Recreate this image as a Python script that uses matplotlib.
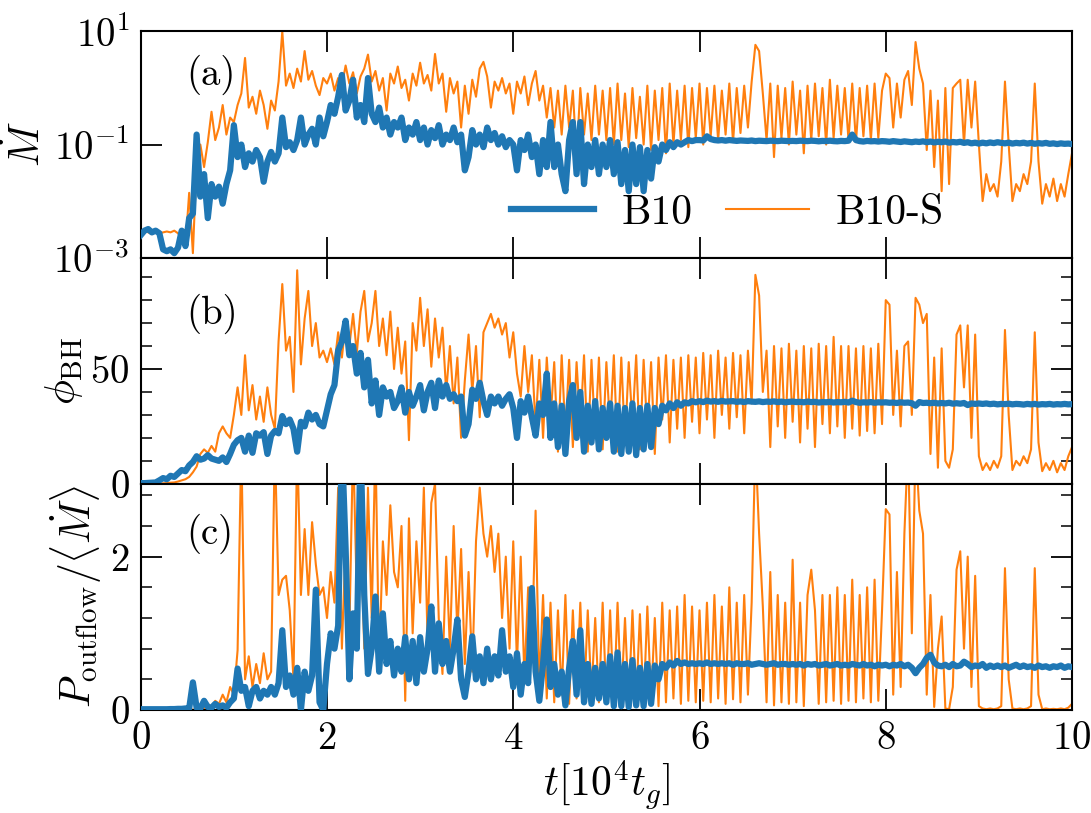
import numpy as np
import matplotlib
matplotlib.use('Agg')
import matplotlib.pyplot as plt
from matplotlib.ticker import FixedLocator, NullLocator, MultipleLocator

# time in units of 1e4 t_g, one sample every 0.04
t_start, t_end = 0.0, 10.0

# accretion rate, B10
mdot_b10 = [
    0.0025, 0.003, 0.0032, 0.0028, 0.003, 0.0027, 0.0014, 0.0013, 0.0014, 0.0012, 0.0015, 0.003, 0.0016, 0.005, 0.006, 0.15, 0.012, 0.03, 0.005, 0.02, 0.012, 0.018, 0.009, 0.02, 0.035,
    0.22, 0.06, 0.1, 0.04, 0.07, 0.05, 0.08, 0.06, 0.022, 0.05, 0.074, 0.05, 0.07, 0.3, 0.09, 0.11, 0.08, 0.12, 0.3, 0.1, 0.15, 0.19, 0.1, 0.3, 0.14,
    0.25, 0.5, 0.35, 0.7, 1.7, 0.4, 0.6, 1.4, 0.3, 0.5, 0.25, 1.5, 0.35, 0.25, 0.45, 0.2, 0.3, 0.15, 0.25, 0.2, 0.3, 0.12, 0.2, 0.15, 0.25,
    0.12, 0.2, 0.1, 0.18, 0.13, 0.22, 0.1, 0.15, 0.12, 0.2, 0.11, 0.15, 0.035, 0.06, 0.18, 0.1, 0.15, 0.09, 0.2, 0.12, 0.16, 0.1, 0.14, 0.09, 0.12,
    0.1, 0.035, 0.12, 0.08, 0.15, 0.06, 0.1, 0.03, 0.12, 0.04, 0.25, 0.04, 0.1, 0.03, 0.015, 0.12, 0.25, 0.03, 0.25, 0.02, 0.1, 0.04, 0.12, 0.03, 0.1,
    0.04, 0.12, 0.03, 0.11, 0.02, 0.08, 0.015, 0.1, 0.02, 0.09, 0.015, 0.08, 0.025, 0.09, 0.05, 0.1, 0.08, 0.11, 0.09, 0.11, 0.1, 0.11, 0.12, 0.115, 0.12,
    0.12, 0.118, 0.14, 0.125, 0.12, 0.118, 0.12, 0.117, 0.12, 0.118, 0.116, 0.118, 0.117, 0.116, 0.118, 0.115, 0.117, 0.116, 0.115, 0.117, 0.116, 0.115, 0.117, 0.116, 0.115,
    0.116, 0.115, 0.117, 0.116, 0.115, 0.117, 0.116, 0.114, 0.116, 0.115, 0.117, 0.115, 0.114, 0.116, 0.115, 0.117, 0.15, 0.12, 0.115, 0.113, 0.116, 0.114, 0.115, 0.113, 0.115,
    0.114, 0.112, 0.115, 0.113, 0.111, 0.114, 0.112, 0.11, 0.113, 0.111, 0.114, 0.11, 0.113, 0.109, 0.112, 0.11, 0.113, 0.108, 0.111, 0.109, 0.112, 0.107, 0.11, 0.105, 0.108,
    0.104, 0.108, 0.105, 0.109, 0.106, 0.11, 0.107, 0.105, 0.108, 0.104, 0.107, 0.105, 0.108, 0.104, 0.107, 0.103, 0.106, 0.104, 0.107, 0.103, 0.105, 0.102, 0.105, 0.103, 0.104,
    0.102,
]

# accretion rate, B10-S
mdot_b10s = [
    0.0025, 0.003, 0.0028, 0.0026, 0.003, 0.0027, 0.0028, 0.0029, 0.0028, 0.003, 0.0027, 0.0022, 0.0016, 0.014, 0.0012, 0.05, 0.1, 0.04, 0.11, 0.38, 0.12, 0.2, 0.5, 0.15, 0.3,
    0.25, 0.5, 0.8, 3.4, 0.45, 0.7, 0.35, 0.9, 0.5, 0.19, 0.6, 0.4, 1.3, 10.0, 1.1, 1.8, 1.0, 2.2, 1.3, 4.5, 1.4, 2.0, 1.1, 0.75, 1.5,
    1.2, 1.8, 0.9, 1.5, 1.1, 2.5, 1.2, 1.9, 0.8, 1.6, 2.2, 3.9, 1.3, 2.0, 0.9, 1.5, 0.4, 1.8, 1.2, 2.4, 1.0, 1.4, 0.6, 1.8, 1.1,
    2.8, 1.2, 1.7, 0.9, 4.0, 1.2, 1.8, 0.38, 1.5, 0.8, 1.3, 0.2, 1.1, 0.35, 1.4, 0.7, 2.2, 2.9, 1.6, 0.45, 1.3, 0.9, 1.5, 0.8, 1.2,
    0.35, 1.3, 0.8, 1.6, 0.5, 1.2, 2.0, 0.6, 1.1, 0.3, 1.0, 0.2, 0.9, 0.15, 1.1, 0.2, 0.9, 0.06, 1.0, 0.15, 0.8, 0.12, 1.1, 0.15, 0.9,
    0.12, 1.0, 0.1, 1.2, 0.12, 0.8, 0.09, 1.0, 0.13, 0.7, 0.1, 1.1, 0.08, 0.9, 0.12, 1.0, 0.07, 1.2, 0.1, 0.9, 0.12, 1.1, 0.09, 1.0, 0.13,
    1.2, 0.1, 1.0, 0.14, 1.1, 0.12, 0.9, 0.15, 1.2, 0.11, 1.0, 0.16, 1.1, 0.2, 1.3, 5.8, 4.5, 0.8, 0.12, 1.2, 0.06, 1.1, 0.13, 1.0, 0.1,
    1.3, 0.15, 0.9, 0.07, 1.1, 0.12, 1.2, 0.14, 1.0, 0.1, 1.4, 0.13, 1.1, 0.15, 1.0, 0.12, 1.2, 0.11, 1.0, 0.14, 1.1, 0.12, 1.2, 0.13, 0.9,
    1.8, 1.5, 0.2, 1.2, 0.3, 1.4, 2.0, 0.5, 6.5, 2.2, 1.2, 0.08, 0.9, 0.04, 0.6, 0.015, 1.0, 0.02, 1.0, 1.2, 1.4, 0.1, 1.4, 0.2, 1.3,
    0.1, 0.01, 0.03, 0.015, 0.02, 0.012, 0.05, 1.3, 0.1, 0.01, 0.02, 0.015, 0.03, 0.02, 0.05, 1.2, 0.05, 0.009, 0.02, 0.012, 0.025, 0.01, 0.02, 0.012, 0.03,
    0.07,
]

# magnetic flux on the horizon, B10
phi_b10 = [
    0.3, 0.3, 0.4, 0.5, 0.6, 1.5, 2.5, 2.0, 3.5, 3.0, 4.5, 6.0, 5.5, 8.0, 9.5, 12.0, 10.5, 11.0, 12.5, 11.0, 10.5, 10.0, 11.5, 9.5, 13.0,
    17.0, 19.0, 20.0, 14.0, 21.0, 13.5, 22.0, 21.0, 22.5, 13.0, 21.0, 23.0, 22.0, 29.5, 26.0, 28.0, 24.0, 14.0, 27.0, 25.0, 31.0, 28.0, 30.0, 26.0, 25.0,
    32.0, 39.0, 43.0, 58.0, 62.0, 71.0, 56.0, 60.0, 48.0, 57.0, 42.0, 54.0, 35.0, 45.0, 30.0, 42.0, 38.0, 40.0, 33.0, 36.0, 42.0, 31.0, 40.0, 34.0, 38.0,
    43.0, 32.0, 40.0, 44.0, 33.0, 45.0, 38.0, 43.0, 37.0, 39.0, 36.0, 38.0, 21.0, 26.0, 41.0, 37.0, 44.0, 36.0, 30.0, 38.0, 35.0, 38.0, 34.0, 37.0, 39.0,
    33.0, 20.0, 36.0, 31.0, 38.0, 29.0, 21.0, 35.0, 30.0, 48.0, 20.0, 35.0, 16.0, 34.0, 13.0, 36.0, 43.0, 20.0, 40.0, 14.0, 34.0, 18.0, 36.0, 15.0, 33.0,
    20.0, 35.0, 14.0, 34.0, 13.0, 33.0, 14.0, 35.0, 12.5, 33.0, 15.0, 34.0, 16.0, 33.0, 26.0, 34.0, 32.0, 35.0, 33.0, 35.5, 34.0, 35.5, 35.0, 36.0, 35.5,
    36.0, 35.6, 36.2, 35.8, 36.0, 35.7, 36.1, 35.8, 35.9, 36.0, 35.7, 35.9, 35.6, 36.0, 35.8, 35.7, 35.9, 35.6, 35.8, 35.7, 35.9, 35.6, 35.8, 35.5, 35.7,
    35.8, 35.6, 35.7, 35.5, 35.8, 35.6, 35.7, 35.4, 35.6, 35.5, 35.7, 35.4, 35.6, 35.5, 35.7, 35.4, 36.2, 35.6, 35.3, 35.5, 35.4, 35.6, 35.3, 35.5, 35.4,
    35.5, 35.3, 35.4, 35.2, 35.5, 35.3, 35.4, 35.1, 34.0, 35.6, 35.2, 35.3, 35.1, 35.3, 35.0, 35.2, 35.0, 35.3, 34.9, 35.1, 34.9, 35.2, 34.3, 35.0, 34.8,
    35.0, 34.8, 35.0, 34.7, 34.9, 34.6, 34.8, 34.7, 34.9, 34.6, 34.8, 34.7, 34.5, 34.8, 34.6, 34.8, 34.5, 34.7, 34.6, 34.8, 34.5, 34.7, 34.6, 34.8, 34.6,
    34.7,
]

# magnetic flux on the horizon, B10-S
phi_b10s = [
    0.0, 0.0, 0.0, 0.0, 0.0, 0.1, 0.2, 0.3, 0.5, 0.6, 1.0, 1.5, 2.0, 3.0, 5.0, 7.5, 13.0, 15.0, 13.5, 16.5, 14.0, 22.0, 25.0, 22.0, 20.0,
    30.0, 42.0, 30.0, 56.0, 32.0, 43.0, 28.0, 38.0, 27.0, 42.0, 30.0, 24.0, 62.0, 87.0, 58.0, 64.0, 40.0, 93.0, 52.0, 72.0, 84.0, 60.0, 70.0, 55.0, 58.0,
    53.0, 59.0, 52.0, 66.0, 55.0, 70.0, 60.0, 74.0, 57.0, 75.0, 84.0, 62.0, 70.0, 84.0, 60.0, 72.0, 56.0, 75.0, 50.0, 68.0, 48.0, 62.0, 19.0, 70.0, 58.0,
    81.0, 60.0, 76.0, 51.0, 72.0, 55.0, 68.0, 40.0, 60.0, 35.0, 55.0, 20.0, 45.0, 65.0, 40.0, 60.0, 29.0, 66.0, 70.0, 74.0, 68.0, 72.0, 65.0, 70.0, 55.0,
    66.0, 48.0, 38.0, 60.0, 40.0, 56.0, 25.0, 54.0, 20.0, 55.0, 28.0, 53.0, 14.0, 56.0, 22.0, 54.0, 16.0, 53.0, 25.0, 56.0, 14.0, 54.0, 20.0, 55.0, 15.0,
    53.0, 24.0, 56.0, 14.0, 55.0, 18.0, 53.0, 26.0, 56.0, 15.0, 54.0, 22.0, 53.0, 13.0, 55.0, 28.0, 56.0, 18.0, 54.0, 24.0, 55.0, 20.0, 56.0, 27.0, 55.0,
    22.0, 57.0, 28.0, 56.0, 20.0, 58.0, 30.0, 55.0, 24.0, 57.0, 29.0, 56.0, 22.0, 58.0, 35.0, 91.0, 82.0, 40.0, 58.0, 16.0, 60.0, 25.0, 59.0, 20.0, 61.0,
    27.0, 58.0, 18.0, 60.0, 24.0, 59.0, 16.0, 61.0, 26.0, 60.0, 22.0, 64.0, 25.0, 60.0, 20.0, 60.0, 24.0, 59.0, 21.0, 60.0, 23.0, 59.0, 22.0, 61.0, 26.0,
    80.0, 78.0, 30.0, 58.0, 25.0, 60.0, 62.0, 30.0, 81.0, 78.0, 70.0, 74.0, 13.0, 55.0, 7.0, 59.0, 10.0, 7.0, 15.0, 65.0, 69.0, 42.0, 69.0, 20.0, 65.0,
    12.0, 6.0, 9.0, 6.0, 10.0, 7.0, 12.0, 67.0, 30.0, 6.0, 10.0, 8.0, 12.0, 9.0, 15.0, 66.0, 18.0, 5.5, 9.0, 6.0, 10.0, 5.0, 9.0, 6.0, 12.0,
    16.0,
]

# outflow power over mean accretion rate, B10
pout_b10 = [
    0.01, 0.01, 0.01, 0.01, 0.01, 0.01, 0.01, 0.01, 0.012, 0.012, 0.015, 0.015, 0.02, 0.02, 0.36, 0.03, 0.02, 0.12, 0.04, 0.03, 0.08, 0.04, 0.06, 0.03, 0.1,
    0.15, 0.54, 0.25, 0.3, 0.05, 0.25, 0.3, 0.15, 0.25, 0.2, 0.3, 0.2, 0.35, 1.04, 0.3, 0.45, 0.2, 0.55, 0.0, 0.5, 0.25, 0.45, 1.57, 0.1, 0.0,
    0.6, 1.0, 0.8, 1.1, 3.5, 2.1, 0.4, 1.26, 0.8, 3.5, 1.5, 0.47, 0.8, 1.48, 0.5, 1.26, 0.6, 0.9, 0.45, 0.8, 0.5, 0.95, 0.4, 0.9, 0.35,
    0.95, 0.5, 0.8, 1.35, 0.5, 1.13, 0.6, 0.9, 0.5, 0.8, 1.18, 0.4, 0.17, 0.5, 0.96, 0.4, 0.7, 0.35, 0.8, 0.4, 0.7, 0.45, 1.04, 0.5, 0.7,
    0.3, 0.74, 0.2, 0.6, 0.35, 1.59, 0.5, 0.12, 0.6, 1.18, 0.3, 0.6, 0.2, 0.5, 0.06, 0.55, 0.9, 0.2, 1.04, 0.1, 0.6, 0.08, 0.55, 0.15, 0.6,
    0.1, 0.7, 0.05, 0.75, 0.05, 0.6, 0.04, 0.65, 0.06, 0.55, 0.05, 0.6, 0.08, 0.58, 0.4, 0.6, 0.55, 0.62, 0.58, 0.64, 0.6, 0.62, 0.6, 0.61, 0.6,
    0.61, 0.6, 0.62, 0.6, 0.61, 0.6, 0.61, 0.6, 0.61, 0.59, 0.61, 0.6, 0.6, 0.61, 0.59, 0.6, 0.61, 0.6, 0.59, 0.6, 0.61, 0.59, 0.6, 0.6, 0.59,
    0.6, 0.59, 0.6, 0.58, 0.6, 0.59, 0.6, 0.58, 0.59, 0.6, 0.58, 0.59, 0.6, 0.58, 0.59, 0.58, 0.6, 0.59, 0.58, 0.6, 0.58, 0.59, 0.57, 0.59, 0.58,
    0.59, 0.57, 0.59, 0.58, 0.6, 0.57, 0.59, 0.55, 0.48, 0.55, 0.6, 0.68, 0.72, 0.62, 0.58, 0.57, 0.59, 0.56, 0.6, 0.57, 0.58, 0.63, 0.6, 0.56, 0.58,
    0.57, 0.6, 0.55, 0.58, 0.56, 0.58, 0.56, 0.58, 0.55, 0.57, 0.59, 0.56, 0.58, 0.56, 0.57, 0.55, 0.58, 0.56, 0.57, 0.55, 0.57, 0.56, 0.58, 0.55, 0.57,
    0.56,
]

# outflow power over mean accretion rate, B10-S
pout_b10s = [
    0.005, 0.005, 0.005, 0.005, 0.005, 0.005, 0.005, 0.005, 0.005, 0.005, 0.005, 0.005, 0.005, 0.005, 0.005, 0.005, 0.005, 0.02, 0.08, 0.04, 0.12, 0.08, 0.2, 0.1, 0.3,
    0.2, 0.78, 3.5, 0.4, 0.7, 0.3, 0.6, 0.35, 0.74, 0.4, 0.5, 3.5, 1.5, 1.7, 1.75, 1.3, 0.4, 3.5, 1.5, 2.36, 1.5, 2.45, 1.9, 1.5, 1.6,
    1.2, 1.8, 1.4, 2.9, 0.8, 2.2, 1.0, 3.5, 1.5, 2.5, 0.8, 2.9, 1.2, 3.5, 0.6, 2.2, 1.5, 2.67, 1.8, 1.6, 2.4, 0.12, 2.5, 1.0, 2.2,
    1.4, 2.9, 0.9, 2.7, 2.95, 1.2, 0.47, 2.0, 0.8, 2.4, 1.0, 2.1, 0.6, 1.8, 0.5, 2.2, 2.9, 2.3, 2.0, 2.4, 1.8, 2.3, 1.2, 2.0, 0.8,
    2.2, 0.6, 2.0, 0.4, 1.6, 0.8, 2.6, 0.3, 1.5, 0.15, 1.4, 0.1, 1.3, 0.2, 1.5, 0.08, 1.3, 0.15, 1.4, 0.1, 1.3, 0.2, 1.2, 0.1, 1.4,
    0.12, 1.3, 0.05, 1.4, 0.15, 1.2, 0.08, 1.3, 0.1, 1.25, 0.06, 1.35, 0.12, 1.2, 0.05, 1.4, 0.1, 1.3, 0.15, 1.35, 0.08, 1.5, 0.12, 1.35, 0.1,
    1.3, 0.12, 1.4, 0.1, 1.5, 0.15, 1.35, 0.08, 1.6, 0.14, 1.4, 0.1, 1.5, 0.2, 1.4, 3.5, 2.3, 1.35, 0.1, 1.8, 0.06, 1.5, 0.1, 1.4, 0.08,
    1.96, 0.1, 1.4, 0.05, 1.5, 1.83, 1.3, 0.08, 1.5, 0.1, 1.5, 0.12, 1.6, 0.08, 1.5, 0.12, 1.7, 0.1, 1.5, 0.15, 1.6, 0.1, 1.7, 0.12, 1.3,
    2.62, 2.55, 0.2, 1.8, 0.3, 2.3, 3.5, 1.0, 3.5, 2.6, 2.3, 0.2, 1.5, 0.04, 0.8, 1.22, 0.02, 0.01, 0.3, 1.83, 2.07, 0.8, 2.0, 0.3, 1.75,
    0.05, 0.02, 0.01, 0.02, 0.01, 0.02, 0.05, 1.85, 0.4, 0.02, 0.01, 0.02, 0.01, 0.02, 0.05, 1.85, 0.2, 0.01, 0.02, 0.01, 0.015, 0.01, 0.02, 0.01, 0.03,
    0.08,
]

for name, s in [('mdot_b10', mdot_b10), ('mdot_b10s', mdot_b10s), ('phi_b10', phi_b10),
                ('phi_b10s', phi_b10s), ('pout_b10', pout_b10), ('pout_b10s', pout_b10s)]:
    if len(s) != 251:
        raise ValueError(f'{name} has {len(s)} values')

t = np.linspace(t_start, t_end, len(mdot_b10))

plt.rcParams['font.family'] = 'serif'
plt.rcParams['font.serif'] = ['cmr10']
plt.rcParams['mathtext.fontset'] = 'cm'
plt.rcParams['axes.formatter.use_mathtext'] = True
plt.rcParams['axes.unicode_minus'] = False

blue = '#1f77b4'
orange = '#ff7f0e'

fig, axes = plt.subplots(3, 1, figsize=(10.91, 8.13), dpi=100, sharex=True)
fig.subplots_adjust(left=0.129, right=0.9826, top=0.9613, bottom=0.1267, hspace=0)

panels = [
    (mdot_b10, mdot_b10s, r'$\dot{M}$', '(a)', 0.807),
    (phi_b10, phi_b10s, r'$\phi_{\rm BH}$', '(b)', 0.75),
    (pout_b10, pout_b10s, r'$P_{\rm outflow}/\langle\dot{M}\rangle$', '(c)', 0.78),
]

for ax, (yb, ys, ylab, tag, ytag) in zip(axes, panels):
    ax.plot(t, ys, color=orange, lw=1.5, label='B10-S', zorder=2)
    ax.plot(t, yb, color=blue, lw=4.5, label='B10', zorder=3)
    ax.set_ylabel(ylab, fontsize=30)
    ax.text(0.049, ytag, tag, transform=ax.transAxes, ha='left', va='center', fontsize=28)
    ax.tick_params(which='both', direction='in', top=True, right=True, labelsize=28, pad=8)
    ax.tick_params(which='major', length=15, width=1.3)
    ax.tick_params(which='minor', length=8, width=1.1)
    for sp in ax.spines.values():
        sp.set_linewidth(1.5)

ax = axes[0]
ax.set_yscale('log')
ax.set_ylim(1e-3, 1e1)
ax.yaxis.set_major_locator(FixedLocator([1e-3, 1e-1, 1e1]))
ax.yaxis.set_minor_locator(NullLocator())
handles, labels = ax.get_legend_handles_labels()
ax.legend(handles[::-1], labels[::-1], loc='center', bbox_to_anchor=(0.63, 0.196),
          ncol=2, frameon=False, fontsize=30, handlelength=2.0, handletextpad=0.65,
          columnspacing=0.8, borderpad=0)

ax = axes[1]
ax.set_ylim(0, 98.5)
ax.yaxis.set_major_locator(MultipleLocator(50))
ax.yaxis.set_minor_locator(MultipleLocator(10))

ax = axes[2]
ax.set_ylim(0, 2.95)
ax.yaxis.set_major_locator(MultipleLocator(2))
ax.yaxis.set_minor_locator(MultipleLocator(0.4))

ax.set_xlim(0, 10)
ax.xaxis.set_major_locator(MultipleLocator(2))
ax.xaxis.set_minor_locator(NullLocator())
ax.set_xlabel(r'$t[10^4t_g]$', fontsize=30, labelpad=1)

fig.savefig('out.png', dpi=100)
